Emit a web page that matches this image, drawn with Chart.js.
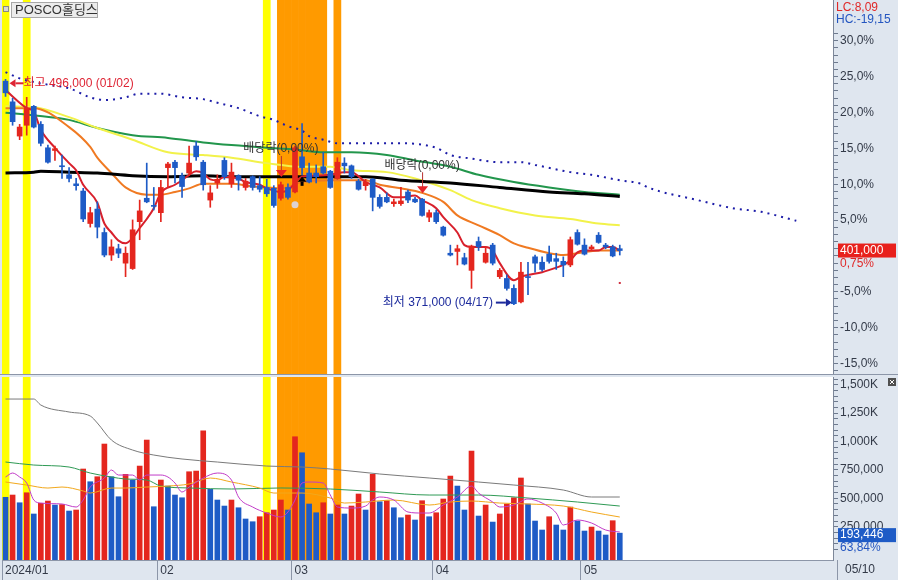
<!DOCTYPE html>
<html lang="ko">
<head>
<meta charset="utf-8">
<title>POSCO홀딩스</title>
<script src="https://cdn.jsdelivr.net/npm/chart.js@4.4.1/dist/chart.umd.min.js"></script>
<style>
    html, body { margin: 0; padding: 0; background: #dfe6ef; }
    #wrap { position: relative; width: 898px; height: 580px; overflow: hidden; background: #dfe6ef; }
    canvas { position: absolute; left: 0; }
    #priceChart { top: 0; width: 898px; height: 375px; }
    #volChart { top: 375px; width: 898px; height: 205px; }
</style>
</head>
<body>
<div id="wrap">
    <canvas id="priceChart" width="898" height="375"></canvas>
    <canvas id="volChart" width="898" height="205"></canvas>
</div>
<script>
"use strict";

// ---- 데이터 ----
const stockName = "POSCO홀딩스";
const monthStart = [0, 22, 41, 61, 82];
const monthLabel = ["2024/01", "02", "03", "04", "05"];
const lastDate = "05/10";

const opens = [495000, 483500, 464500, 470500, 481000, 471000, 458000, 456500, 448000, 443000,
    438000, 434000, 416000, 424000, 411000, 398500, 402000, 394000, 391000, 417000,
    430000, 426000, 422000, 447000, 450000, 442500, 444000, 459000, 450000, 429000,
    438500, 451000, 438000, 442500, 436000, 442000, 437000, 436000, 435500, 430000,
    436000, 433500, 453000, 444000, 444000, 447500, 445000, 441000, 449500, 448000,
    439500, 437000, 440500, 430500, 430500, 427000, 427000, 433500, 429500, 429500,
    419500, 422000, 414000, 399500, 400500, 397000, 390000, 406000, 394500, 404000,
    386500, 385500, 380000, 372500, 386500, 397500, 394500, 399000, 396500, 395000,
    393000, 411000, 404000, 402000, 409500, 404000, 403000, 402000];
const highs = [496000, 485500, 471000, 486000, 481500, 472500, 459500, 459000, 454000, 447000,
    441000, 435500, 425000, 428000, 413500, 407000, 404500, 403000, 418000, 429000,
    449500, 436000, 440000, 450000, 451000, 444000, 459000, 461500, 451000, 437000,
    443000, 452500, 449500, 443000, 441000, 442500, 442000, 440500, 437000, 439000,
    438000, 459000, 471500, 449500, 448500, 455500, 445500, 452500, 452500, 448500,
    440500, 440500, 441000, 432000, 433000, 429500, 436000, 434500, 430500, 430000,
    423500, 423500, 414500, 404000, 404000, 399500, 404000, 408500, 403000, 405000,
    391000, 387500, 382000, 394500, 394500, 398500, 397500, 403500, 399500, 397500,
    408500, 412500, 407500, 404000, 411000, 405000, 404000, 404000];
const lows = [486500, 470500, 462500, 465000, 469000, 459000, 449500, 451000, 441000, 439000,
    434500, 417000, 414000, 408000, 397500, 395500, 397000, 386500, 390500, 407000,
    427500, 423500, 417000, 436000, 438500, 430500, 442500, 451000, 434500, 425000,
    435500, 440500, 436000, 434500, 434500, 434500, 433500, 431000, 425000, 429000,
    429500, 433000, 443000, 438500, 438500, 443500, 435500, 440500, 444000, 441000,
    434500, 434500, 423000, 424500, 427500, 425500, 426000, 427500, 427500, 420000,
    417000, 416000, 409000, 398000, 393000, 393000, 380000, 401000, 394000, 393000,
    385500, 379000, 371000, 372000, 376500, 389000, 389500, 394000, 390500, 386500,
    392000, 404000, 398500, 401000, 405000, 402000, 397500, 398500];
const closes = [488500, 472500, 469500, 480000, 469500, 460500, 450000, 457500, 447500, 441000,
    437000, 418500, 422000, 414000, 398500, 403000, 399500, 399500, 412500, 423000,
    428000, 425500, 436000, 449000, 447000, 436500, 449500, 453000, 437500, 433000,
    440500, 442000, 444500, 440000, 439500, 436000, 435000, 432500, 426000, 437500,
    430500, 458000, 447000, 439000, 442000, 444000, 436000, 450000, 448000, 442000,
    435000, 439000, 430500, 425500, 428000, 428000, 428500, 429000, 428000, 420500,
    422000, 417000, 409500, 398500, 402000, 393500, 403500, 403000, 399500, 394000,
    390000, 380000, 371500, 389000, 386000, 394000, 390500, 395000, 395000, 393000,
    407000, 404500, 399000, 403000, 405500, 403000, 398000, 401000];
const volumes = [509000, 529000, 461000, 549000, 362000, 456000, 476000, 441000, 445000, 388000,
    397000, 758000, 646000, 690000, 978000, 690000, 514000, 711000, 661000, 784000,
    1013000, 426000, 661000, 608000, 529000, 505000, 734000, 740000, 1095000, 579000,
    485000, 432000, 485000, 417000, 318000, 294000, 338000, 373000, 397000, 485000,
    397000, 1042000, 901000, 450000, 373000, 461000, 362000, 441000, 362000, 432000,
    538000, 397000, 711000, 470000, 479000, 417000, 329000, 353000, 309000, 479000,
    338000, 373000, 494000, 696000, 608000, 397000, 916000, 344000, 441000, 291000,
    362000, 450000, 505000, 679000, 450000, 300000, 221000, 338000, 265000, 221000,
    423000, 300000, 212000, 247000, 212000, 177000, 303000, 193446];

// 가격 이동평균선 (그림에서 읽은 지점)
const ma5Idx = [0, 3, 4, 5, 7, 9, 10, 11, 13, 14, 15, 16, 17, 18, 19, 20, 21, 22, 24, 25,
    26, 27, 28, 29, 30, 31, 33, 34, 36, 37, 39, 40, 42, 44, 46, 48, 49, 51, 53, 55,
    56, 58, 59, 61, 62, 64, 65, 66, 68, 69, 70, 72, 73, 74, 76, 78, 79, 80, 81, 82,
    84, 85, 86, 87];
const ma5 = [490000, 480000, 478000, 468000, 458000, 449500, 445500, 437500, 427500, 416000,
    411000, 406500, 405000, 408000, 413500, 418500, 424500, 433000, 437500, 440000,
    443000, 445000, 444000, 440500, 440000, 442000, 441000, 439000, 437500, 435500,
    433500, 434500, 442000, 442500, 443000, 444500, 444500, 439000, 436000, 430500,
    430500, 431500, 429000, 424500, 419500, 411000, 404000, 403000, 403000, 401000,
    394000, 384500, 386500, 387500, 389000, 391500, 393000, 395500, 400000, 401000,
    401000, 403000, 403000, 401000];
const ma20Idx = [0, 4, 9, 12, 13, 15, 17, 20, 22, 24, 26, 28, 30, 32, 35, 37, 39, 42, 46, 51,
    53, 56, 59, 62, 64, 67, 70, 72, 74, 77, 79, 81, 84, 87];
const ma20 = [480000, 480000, 469500, 458500, 452500, 444000, 436000, 432000, 432000, 433500,
    435500, 438000, 438000, 438000, 436500, 436000, 435500, 439000, 440000, 440000,
    437500, 435500, 433000, 428000, 420500, 415000, 409500, 405000, 402500, 399500,
    398500, 399500, 401000, 401000];
const ma60Idx = [0, 4, 9, 13, 18, 23, 28, 32, 37, 42, 46, 49, 54, 58, 63, 66, 70, 75, 80, 84, 87];
const ma60 = [481000, 480500, 475000, 469000, 462500, 455500, 454000, 452500, 449500, 447500,
    447500, 445500, 444500, 441000, 434500, 429000, 424500, 420500, 418500, 416000, 415000];
const ma120Idx = [0, 4, 9, 13, 18, 23, 28, 32, 37, 41, 45, 49, 54, 58, 63, 67, 72, 77, 82, 87];
const ma120 = [477500, 476000, 473500, 469000, 465000, 463500, 461000, 459500, 458000, 457000,
    455500, 455500, 454000, 451000, 447500, 443000, 439000, 436000, 433500, 432000];
const ma240Idx = [0, 4, 5, 9, 13, 18, 23, 28, 32, 37, 42, 51, 56, 63, 70, 77, 82, 87];
const ma240 = [444000, 444500, 445000, 444500, 444000, 442500, 442000, 442500, 442000, 442000,
    442000, 442000, 440000, 438500, 436000, 433500, 432500, 431000];
const leadIdx = [0, 2, 4, 6, 9, 12, 14, 17, 19, 22, 25, 28, 30, 33, 36, 38, 40, 42, 43, 45,
    47, 53, 56, 61, 63, 66, 70, 73, 75, 80, 83, 87, 90, 91, 98, 103, 107, 112];
const leadLine = [500000, 496500, 494500, 493000, 491000, 486000, 484500, 486000, 488000, 488000,
    486000, 485000, 483000, 480000, 475500, 473500, 470000, 467500, 464500, 462500,
    460500, 460500, 460500, 458000, 454000, 452000, 450000, 450000, 448500, 444500,
    443000, 440000, 438000, 436000, 429000, 424500, 422500, 417500];

// 거래량 이동평균선
const vma5Idx = [0, 1, 2, 3, 4, 5, 8, 10, 11, 12, 14, 15, 16, 18, 19, 20, 22, 23, 24, 25,
    26, 28, 30, 32, 33, 35, 37, 39, 40, 41, 42, 43, 45, 46, 47, 49, 51, 52, 53, 55,
    57, 59, 60, 62, 64, 66, 67, 69, 70, 72, 74, 76, 78, 79, 81, 83, 85, 87];
const vma5 = [687500, 722500, 687500, 634500, 485000, 458500, 450000, 423500, 485000, 599500,
    678500, 749000, 705000, 705000, 661000, 705000, 705000, 687500, 634500, 555500,
    599500, 678500, 722500, 661000, 511500, 423500, 370500, 335500, 379500, 485000,
    634500, 643500, 634500, 529000, 423500, 414500, 432000, 485000, 511500, 485000,
    379500, 370500, 370500, 441000, 511500, 608000, 546500, 467500, 423500, 441000,
    494000, 458500, 370500, 265000, 309000, 282500, 221000, 203500];
const vma20Idx = [0, 3, 6, 8, 11, 12, 15, 17, 20, 23, 26, 29, 32, 36, 38, 40, 42, 46, 48, 51,
    55, 60, 63, 66, 70, 74, 79, 83, 87];
const vma20 = [643500, 617000, 590500, 599500, 564500, 546500, 590500, 590500, 599500, 608000,
    626000, 678500, 643500, 590500, 546500, 546500, 546500, 502500, 458500, 467500,
    485000, 441000, 467500, 476000, 458500, 450000, 432000, 379500, 335500];
const vma60Idx = [0, 4, 9, 12, 15, 17, 20, 22, 26, 32, 39, 46, 53, 60, 67, 74, 81, 87];
const vma60 = [819500, 793000, 775500, 722500, 687500, 670000, 661000, 608000, 591000, 582000,
    591000, 582000, 555500, 529000, 529000, 502500, 467500, 432000];
const vma120Idx = [0, 4, 5, 9, 12, 13, 15, 18, 21, 25, 30, 37, 42, 46, 53, 60, 67, 72, 79, 83, 87];
const vma120 = [1374000, 1374000, 1321000, 1260000, 1224500, 1163000, 1013000, 925000, 881000, 846000,
    819500, 784000, 775500, 758000, 714000, 679000, 643500, 617000, 573000, 511500, 511500];

// 강조 구간, 표시
const yellowBandIdx = [0, 3, 37];
const orangeBandIdx = [39, 40, 41, 42, 43, 44, 45, 47];
const extremeIdx = [0, 72];
const extremeText = ["최고 496,000 (01/02)", "최저 371,000 (04/17)"];
const dividendIdx = [39, 59];
const dividendText = "배당락(0,00%)";
const signalIdx = [42];
const fadedIdx = [41];
const dotIdx = [87];
const dotPrice = [383000];

// ---- 축 설정 ----
const priceMin = 332500;
const priceMax = 540000;
const volMin = -43000;
const volMax = 1568000;
const slotMax = 117.2;

const RED = "#e4261e";
const BLUE = "#1e5bc6";
const FONT = '"Liberation Sans", "Noto Sans CJK KR", sans-serif';

Chart.defaults.font.family = FONT;
Chart.defaults.font.size = 12;
Chart.defaults.color = "#333a48";

const lastClose = closes[closes.length - 1];
const prevClose = closes[closes.length - 2];
const fmtNum = (v) => Math.round(v).toLocaleString("en-US");
const fmtDec = (v, d) => v.toFixed(d).replace(".", ",");

const candleColor = closes.map((c, i) => (c >= opens[i] ? RED : BLUE));
const volColor = volumes.map((v, i) => (i > 0 && v > volumes[i - 1] ? RED : BLUE));

const pctSteps = [];
for (let k = -16; k <= 31; k++) pctSteps.push(k);
const volSteps = [];
for (let v = 50000; v <= 1550000; v += 50000) volSteps.push(v);

function lineSet(idx, vals, color, width, order, dash) {
    return {
        type: "line",
        data: idx.map((x, k) => ({ x: x, y: vals[k] })),
        borderColor: color,
        borderWidth: width,
        borderDash: dash || [],
        pointRadius: 0,
        cubicInterpolationMode: "monotone",
        fill: false,
        order: order,
    };
}

function bandSet(idx, color, lo, hi) {
    return {
        type: "bar",
        data: idx.map((i) => ({ x: i, y: [lo, hi] })),
        backgroundColor: color,
        barPercentage: 1,
        categoryPercentage: 1,
        grouped: false,
        order: 20,
    };
}

const noPad = (s) => {
    s.paddingTop = 0;
    s.paddingBottom = 0;
    s.paddingLeft = 0;
    s.paddingRight = 0;
};

const whiteArea = {
    id: "whiteArea",
    beforeDraw(chart) {
        const { ctx, chartArea: a } = chart;
        ctx.save();
        ctx.fillStyle = "#ffffff";
        ctx.fillRect(a.left, a.top, a.right - a.left, a.bottom - a.top);
        ctx.restore();
    },
};

const priceOverlay = {
    id: "priceOverlay",
    afterDraw(chart) {
        const { ctx, chartArea: a } = chart;
        const xs = chart.scales.x;
        const ys = chart.scales.y;
        ctx.save();
        ctx.font = "12px " + FONT;
        ctx.textBaseline = "middle";

        // 패널 경계
        ctx.strokeStyle = "#8c96a8";
        ctx.lineWidth = 1;
        ctx.beginPath();
        ctx.moveTo(0, a.bottom + 0.5);
        ctx.lineTo(chart.width, a.bottom + 0.5);
        ctx.stroke();

        // 종목명
        ctx.fillStyle = "#d8d8d8";
        ctx.strokeStyle = "#888";
        ctx.fillRect(3.5, 6.5, 5, 5);
        ctx.strokeRect(3.5, 6.5, 5, 5);
        ctx.fillStyle = "#ececec";
        ctx.fillRect(11.5, 2.5, 86, 15);
        ctx.strokeStyle = "#a8a8a8";
        ctx.strokeRect(11.5, 2.5, 86, 15);
        ctx.fillStyle = "#333";
        ctx.font = "13px " + FONT;
        ctx.fillText(stockName, 15, 10.5);
        ctx.font = "12px " + FONT;

        // 최고
        let px = xs.getPixelForValue(extremeIdx[0]);
        let py = ys.getPixelForValue(highs[extremeIdx[0]]) + 4;
        ctx.fillStyle = "#de2434";
        ctx.beginPath();
        ctx.moveTo(px + 4, py);
        ctx.lineTo(px + 10, py - 4);
        ctx.lineTo(px + 10, py + 4);
        ctx.closePath();
        ctx.fill();
        ctx.fillRect(px + 10, py - 1, 8, 2);
        ctx.textAlign = "left";
        ctx.fillText(extremeText[0], px + 18, py);

        // 최저
        px = xs.getPixelForValue(extremeIdx[1]);
        py = ys.getPixelForValue(lows[extremeIdx[1]]) - 2;
        ctx.fillStyle = "#1c2a9c";
        ctx.beginPath();
        ctx.moveTo(px - 2, py);
        ctx.lineTo(px - 8, py - 4);
        ctx.lineTo(px - 8, py + 4);
        ctx.closePath();
        ctx.fill();
        ctx.fillRect(px - 18, py - 1, 10, 2);
        ctx.textAlign = "right";
        ctx.fillText(extremeText[1], px - 21, py);

        // 배당락
        dividendIdx.forEach((i) => {
            const dx = xs.getPixelForValue(i);
            const tip = ys.getPixelForValue(highs[i]) - 5;
            ctx.strokeStyle = "#b83030";
            ctx.beginPath();
            ctx.moveTo(dx + 0.5, tip - 21);
            ctx.lineTo(dx + 0.5, tip - 6);
            ctx.stroke();
            ctx.fillStyle = "#e8242a";
            ctx.beginPath();
            ctx.moveTo(dx - 5, tip - 7);
            ctx.lineTo(dx + 6, tip - 7);
            ctx.lineTo(dx + 0.5, tip);
            ctx.closePath();
            ctx.fill();
            ctx.fillStyle = "#333";
            ctx.textAlign = "center";
            ctx.fillText(dividendText, dx, tip - 28);
        });

        // 신호 화살표
        signalIdx.forEach((i) => {
            const sx = xs.getPixelForValue(i);
            const top = ys.getPixelForValue(lows[i]) + 2;
            ctx.fillStyle = "#000";
            ctx.beginPath();
            ctx.moveTo(sx, top);
            ctx.lineTo(sx - 4.5, top + 5);
            ctx.lineTo(sx + 4.5, top + 5);
            ctx.closePath();
            ctx.fill();
            ctx.fillRect(sx - 1.5, top + 5, 3, 4);
        });
        fadedIdx.forEach((i) => {
            const fx = xs.getPixelForValue(i);
            const fy = ys.getPixelForValue(lows[i]) + 12;
            ctx.fillStyle = "#ddd2d2";
            ctx.beginPath();
            ctx.arc(fx, fy, 3.5, 0, Math.PI * 2);
            ctx.fill();
        });
        dotIdx.forEach((i, k) => {
            ctx.fillStyle = "#d03040";
            ctx.fillRect(xs.getPixelForValue(i) - 1, ys.getPixelForValue(dotPrice[k]) - 1, 2, 2);
        });

        // 오른쪽 정보
        const hi = Math.max(...highs);
        const lo = Math.min(...lows);
        ctx.textAlign = "left";
        ctx.fillStyle = "#e02828";
        ctx.fillText("LC:" + fmtDec((lastClose / lo - 1) * 100, 2), 836, 8);
        ctx.fillStyle = "#2456c0";
        ctx.fillText("HC:" + fmtDec((lastClose / hi - 1) * 100, 2), 836, 20);

        const cy = ys.getPixelForValue(lastClose);
        ctx.fillStyle = "#e8201c";
        ctx.fillRect(838, cy - 7, 58, 14);
        ctx.fillStyle = "#ffffff";
        ctx.fillText(fmtNum(lastClose), 840, cy);
        ctx.fillStyle = "#e02828";
        ctx.fillText(fmtDec((lastClose / prevClose - 1) * 100, 2) + "%", 840, cy + 13);

        ctx.restore();
    },
};

const volOverlay = {
    id: "volOverlay",
    afterDraw(chart) {
        const { ctx, chartArea: a } = chart;
        const ys = chart.scales.y;
        ctx.save();
        ctx.font = "12px " + FONT;
        ctx.textBaseline = "middle";
        ctx.textAlign = "left";

        const lastVol = volumes[volumes.length - 1];
        const prevVol = volumes[volumes.length - 2];
        const vy = ys.getPixelForValue(lastVol) + 2;
        ctx.fillStyle = "#1e5bc6";
        ctx.fillRect(838, vy - 7, 58, 14);
        ctx.fillStyle = "#ffffff";
        ctx.fillText(fmtNum(lastVol), 840, vy);
        ctx.fillStyle = "#2456c0";
        ctx.fillText(fmtDec((lastVol / prevVol) * 100, 2) + "%", 840, vy + 13);

        // 닫기 아이콘
        ctx.fillStyle = "#505050";
        ctx.fillRect(888, 3, 8, 8);
        ctx.strokeStyle = "#ffffff";
        ctx.beginPath();
        ctx.moveTo(890, 5);
        ctx.lineTo(894, 9);
        ctx.moveTo(894, 5);
        ctx.lineTo(890, 9);
        ctx.stroke();

        // 날짜 칸
        ctx.strokeStyle = "#8c96a8";
        ctx.beginPath();
        ctx.moveTo(837.5, a.bottom);
        ctx.lineTo(837.5, chart.height);
        ctx.stroke();
        ctx.fillStyle = "#333a48";
        ctx.fillText(lastDate, 845, a.bottom + 10);
        ctx.restore();
    },
};

new Chart(document.getElementById("priceChart"), {
    type: "bar",
    data: {
        datasets: [
            {
                type: "bar",
                data: closes.map((c, i) => ({ x: i, y: [opens[i], c] })),
                backgroundColor: candleColor,
                barThickness: 5,
                minBarLength: 1,
                grouped: false,
                order: 1,
            },
            {
                type: "bar",
                data: highs.map((h, i) => ({ x: i, y: [lows[i], h] })),
                backgroundColor: candleColor,
                barThickness: 1,
                grouped: false,
                order: 2,
            },
            lineSet(ma5Idx, ma5, "#d8202c", 2, 3),
            lineSet(ma240Idx, ma240, "#000000", 3, 4),
            lineSet(ma20Idx, ma20, "#f07a22", 2, 5),
            lineSet(ma60Idx, ma60, "#f2f24a", 2, 6),
            lineSet(ma120Idx, ma120, "#22964c", 2, 7),
            lineSet(leadIdx, leadLine, "#1c1ca8", 2, 8, [2, 5]),
            bandSet(yellowBandIdx, "#ffff00", priceMin, priceMax),
            bandSet(orangeBandIdx, "#ff9a00", priceMin, priceMax),
        ],
    },
    options: {
        responsive: false,
        devicePixelRatio: 1,
        animation: false,
        events: [],
        layout: { padding: { left: 2, top: 0, right: 0, bottom: 1 } },
        plugins: { legend: { display: false }, tooltip: { enabled: false } },
        scales: {
            x: {
                type: "linear",
                min: -0.5,
                max: slotMax,
                offset: false,
                display: false,
                grid: { offset: false },
            },
            y: {
                type: "linear",
                position: "right",
                min: priceMin,
                max: priceMax,
                afterFit: (s) => {
                    s.width = 65;
                    noPad(s);
                },
                afterBuildTicks: (s) => {
                    s.ticks = pctSteps
                        .map((k) => ({ value: prevClose * (1 + k / 100), pct: k }))
                        .filter((t) => t.value >= priceMin && t.value <= priceMax);
                },
                ticks: {
                    autoSkip: false,
                    padding: 2,
                    callback: (v, i, ticks) => {
                        const k = ticks[i].pct;
                        return k % 5 === 0 && k !== 0 ? fmtDec(k, 1) + "%" : "";
                    },
                },
                grid: { drawOnChartArea: false, tickLength: 5, tickColor: "#6e7a8e" },
                border: { color: "#7d8799" },
            },
        },
    },
    plugins: [whiteArea, priceOverlay],
});

new Chart(document.getElementById("volChart"), {
    type: "bar",
    data: {
        datasets: [
            lineSet(vma5Idx, vma5, "#c23cc8", 1, 1),
            lineSet(vma20Idx, vma20, "#f2a81c", 1, 2),
            lineSet(vma60Idx, vma60, "#2f9a55", 1, 3),
            lineSet(vma120Idx, vma120, "#7a7a7a", 1, 4),
            {
                type: "bar",
                data: volumes.map((v, i) => ({ x: i, y: v })),
                backgroundColor: volColor,
                barThickness: 5,
                grouped: false,
                base: volMin,
                order: 5,
            },
            bandSet(yellowBandIdx, "#ffff00", volMin, volMax),
            bandSet(orangeBandIdx, "#ff9a00", volMin, volMax),
        ],
    },
    options: {
        responsive: false,
        devicePixelRatio: 1,
        animation: false,
        events: [],
        layout: { padding: { left: 2, top: 2, right: 0, bottom: 0 } },
        plugins: { legend: { display: false }, tooltip: { enabled: false } },
        scales: {
            x: {
                type: "linear",
                position: "bottom",
                min: -0.5,
                max: slotMax,
                offset: false,
                afterFit: (s) => {
                    s.height = 20;
                    noPad(s);
                },
                afterBuildTicks: (s) => {
                    s.ticks = monthStart.map((i) => ({ value: i - 0.5 }));
                },
                ticks: {
                    autoSkip: false,
                    maxRotation: 0,
                    align: "start",
                    labelOffset: 3,
                    padding: -17,
                    callback: (v, i) => monthLabel[i],
                },
                grid: { drawOnChartArea: false, offset: false, tickLength: 20, color: "#8c96a8" },
                border: { color: "#8c96a8" },
            },
            y: {
                type: "linear",
                position: "right",
                min: volMin,
                max: volMax,
                afterFit: (s) => {
                    s.width = 65;
                    noPad(s);
                },
                afterBuildTicks: (s) => {
                    s.ticks = volSteps.map((v) => ({ value: v }));
                },
                ticks: {
                    autoSkip: false,
                    padding: 2,
                    callback: (v) => {
                        if (v % 250000 !== 0) return "";
                        return v >= 1000000 ? fmtNum(v / 1000) + "K" : fmtNum(v);
                    },
                },
                grid: { drawOnChartArea: false, tickLength: 5, tickColor: "#6e7a8e" },
                border: { color: "#7d8799" },
            },
        },
    },
    plugins: [whiteArea, volOverlay],
});
</script>
</body>
</html>
